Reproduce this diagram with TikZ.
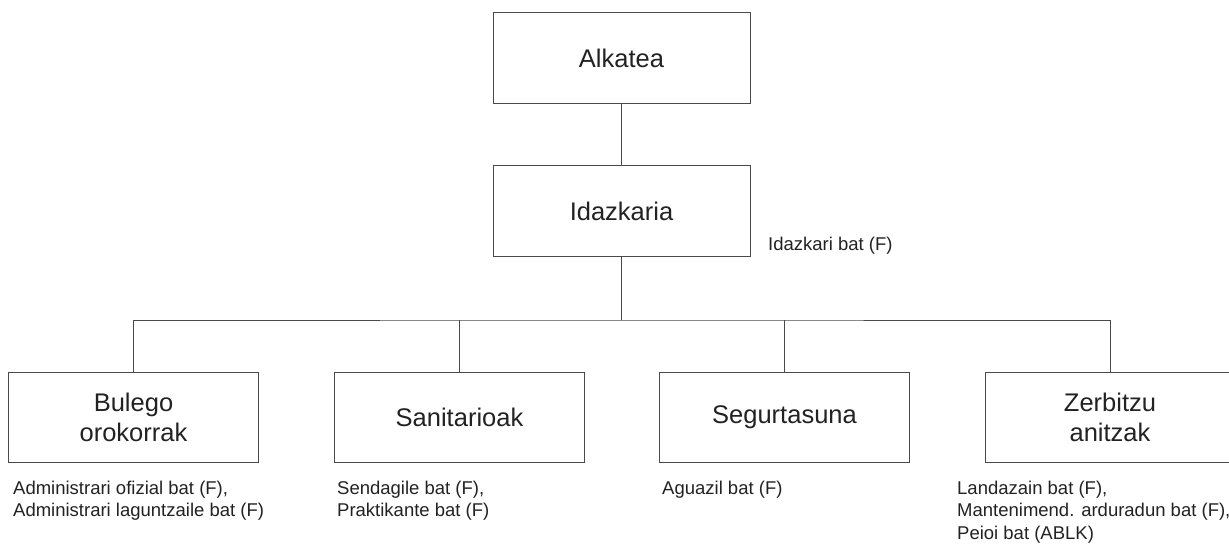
\documentclass[tikz,border=0pt]{standalone}
\usepackage{fontspec}
\setmainfont{Liberation Sans}
\definecolor{linec}{HTML}{4A4A4A}
\definecolor{textc}{HTML}{222222}
\begin{document}
\begin{tikzpicture}[x=1pt,y=-1pt,
  unitbox/.style={draw=linec,line width=0.9pt,minimum width=257pt,minimum height=91pt,inner sep=0pt,
    font=\fontsize{25.5}{30}\selectfont,text=textc,align=center},
  subbox/.style={unitbox,minimum width=250pt,minimum height=90pt},
  staff/.style={anchor=base west,inner sep=0pt,align=left,text=textc,font=\fontsize{18.5}{22.5}\selectfont},
  conn/.style={draw=linec,line width=0.9pt}]
\useasboundingbox (0,0) rectangle (1229,546);
\clip (0,0) rectangle (1229,546);
\node[unitbox] (alk) at (621.5,58) {Alkatea};
\node[unitbox] (ida) at (621.5,211) {Idazkaria};
\node[staff] (idal) at (768,250) {Idazkari bat (F)};
\node[subbox] (b1) at (133.5,417) {Bulego\\orokorrak};
\node[subbox] (b2) at (459.5,417) {Sanitarioak};
\node[subbox] (b3) at (784.5,417) {Segurtasuna};
\node[subbox] (b4) at (1110,417) {Zerbitzu\\anitzak};
\node[staff] (l1) at (13,516.5) {Administrari ofizial bat (F),\\Administrari laguntzaile bat (F)};
\node[staff] (l2) at (337,516.5) {Sendagile bat (F),\\Praktikante bat (F)};
\node[staff] (l3) at (662,494) {Aguazil bat (F)};
\node[staff] (l4) at (957,539) {Landazain bat (F),\\Mantenimend. arduradun bat (F),\\Peioi bat (ABLK)};
\coordinate (hub) at (621.5,320);
\draw[conn] (alk) -- (ida);
\draw[conn] (ida) -- (hub);
\draw[conn] (b1.north) |- (hub) -| (b4.north);
\draw[conn] (b2.north) -- (b2.north |- hub);
\draw[conn] (b3.north) -- (b3.north |- hub);
\end{tikzpicture}
\end{document}
